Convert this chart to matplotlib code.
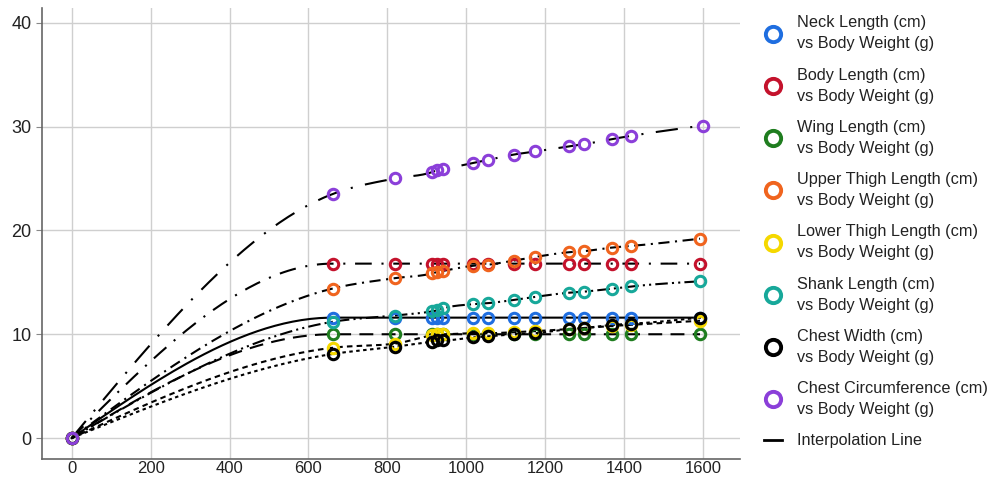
import numpy as np
import matplotlib
matplotlib.use('Agg')
import matplotlib.pyplot as plt
from matplotlib.lines import Line2D

weight = [0, 661, 819, 912, 926, 941, 1018, 1056, 1120, 1175, 1260, 1298, 1370, 1417, 1592]
weight_circ = [0, 661, 819, 912, 926, 941, 1018, 1056, 1120, 1175, 1260, 1298, 1370, 1417, 1600]

neck = [0, 11.6, 11.6, 11.6, 11.6, 11.6, 11.6, 11.6, 11.6, 11.6, 11.6, 11.6, 11.6, 11.6, 11.6]
body = [0, 16.8, 16.8, 16.8, 16.8, 16.8, 16.8, 16.8, 16.8, 16.8, 16.8, 16.8, 16.8, 16.8, 16.8]
wing = [0, 10.0, 10.0, 10.0, 10.0, 10.0, 10.0, 10.0, 10.0, 10.0, 10.0, 10.0, 10.0, 10.0, 10.0]
upper_thigh = [0, 14.4, 15.4, 15.85, 16.0, 16.1, 16.6, 16.7, 17.1, 17.45, 17.9, 18.0, 18.35, 18.5, 19.2]
lower_thigh = [0, 8.7, 9.1, 9.9, 10.0, 10.0, 10.1, 10.1, 10.2, 10.3, 10.5, 10.6, 10.8, 10.9, 11.3]
shank = [0, 11.2, 11.8, 12.2, 12.3, 12.5, 12.9, 13.0, 13.3, 13.6, 14.0, 14.1, 14.4, 14.6, 15.1]
chest_width = [0, 8.1, 8.8, 9.3, 9.4, 9.4, 9.7, 9.8, 10.0, 10.1, 10.5, 10.6, 10.9, 11.0, 11.6]
chest_circ = [0, 23.5, 25.0, 25.6, 25.8, 25.9, 26.5, 26.8, 27.3, 27.6, 28.1, 28.3, 28.8, 29.1, 30.1]

labels = ['Neck Length (cm)', 'Body Length (cm)', 'Wing Length (cm)', 'Upper Thigh Length (cm)',
          'Lower Thigh Length (cm)', 'Shank Length (cm)', 'Chest Width (cm)', 'Chest Circumference (cm)']
colors = ['#1f6ee0', '#c4122c', '#1f7d1f', '#f0641e', '#f5d800', '#17a89a', '#000000', '#8b3fd9']
# dash patterns in points (None = solid)
dashes = [None, (12, 7, 1.5, 7), (10, 6), (8, 4, 1.5, 4), (4, 3),
          (9, 3, 1.5, 3, 1.5, 3), (2.5, 2.5), (16, 9, 1.5, 9)]

x_ticks = [0, 200, 400, 600, 800, 1000, 1200, 1400, 1600]
y_ticks = [0, 10, 20, 30, 40]


def monotone_curve(x, y, n=60):
    # monotone cubic (same as d3 curveMonotoneX)
    x = np.asarray(x, float)
    y = np.asarray(y, float)
    h = np.diff(x)
    s = np.diff(y) / h
    m = np.zeros(len(x))
    for i in range(1, len(x) - 1):
        p = (s[i - 1] * h[i] + s[i] * h[i - 1]) / (h[i - 1] + h[i])
        sg = (1 if s[i - 1] >= 0 else -1) + (1 if s[i] >= 0 else -1)
        m[i] = sg * min(abs(s[i - 1]), abs(s[i]), 0.5 * abs(p))
    m[0] = (3 * s[0] - m[1]) / 2
    m[-1] = (3 * s[-1] - m[-2]) / 2
    xs, ys = [], []
    for i in range(len(x) - 1):
        t = np.linspace(0, 1, n)
        h00 = 2 * t**3 - 3 * t**2 + 1
        h10 = t**3 - 2 * t**2 + t
        h01 = -2 * t**3 + 3 * t**2
        h11 = t**3 - t**2
        xs.append(x[i] + t * h[i])
        ys.append(h00 * y[i] + h10 * h[i] * m[i] + h01 * y[i + 1] + h11 * h[i] * m[i + 1])
    return np.concatenate(xs), np.concatenate(ys)


plt.rcParams['font.family'] = ['Liberation Sans', 'DejaVu Sans']
plt.rcParams['lines.scale_dashes'] = False

fig = plt.figure(figsize=(9.89, 4.79), dpi=100)
ax = fig.add_axes([0.0425, 0.042, 0.706, 0.941])

series = [neck, body, wing, upper_thigh, lower_thigh, shank, chest_width, chest_circ]
xs_all = [weight] * 7 + [weight_circ]

for xv, yv, d in zip(xs_all, series, dashes):
    cx, cy = monotone_curve(xv, yv)
    line, = ax.plot(cx, cy, color='black', lw=1.5, zorder=2)
    if d is not None:
        line.set_dashes(d)

for xv, yv, c in zip(xs_all, series, colors):
    ax.plot(xv, yv, 'o', ms=7.5, mfc='none', mec=c, mew=2.2, zorder=3)

ax.set_xlim(-75, 1694)
ax.set_ylim(-2.0, 41.4)
ax.set_xticks(x_ticks)
ax.set_yticks(y_ticks)
ax.tick_params(axis='x', labelsize=12, length=0, pad=1.5, labelcolor='#222222')
ax.tick_params(axis='y', labelsize=13, length=4, color='#888888', labelcolor='#222222')
ax.grid(True, color='#cfcfcf', lw=1)
ax.set_axisbelow(True)
for sp in ['top', 'right']:
    ax.spines[sp].set_visible(False)
for sp in ['left', 'bottom']:
    ax.spines[sp].set_color('#666666')
    ax.spines[sp].set_linewidth(1.2)

handles = []
for lab, c in zip(labels, colors):
    handles.append(Line2D([], [], ls='none', marker='o', ms=11, mfc='none', mec=c, mew=2.8,
                          label=lab + '\nvs Body Weight (g)'))
handles.append(Line2D([], [], color='black', lw=2, label='Interpolation Line'))

leg = fig.legend(handles=handles, loc='upper left', bbox_to_anchor=(0.7725, 0.968),
                 frameon=False, fontsize=11.7, handlelength=1.1, handletextpad=0.9,
                 labelspacing=1.0, borderpad=0, borderaxespad=0)
for t in leg.get_texts():
    t.set_linespacing(1.5)
    t.set_color('#222222')

fig.savefig('out.png', dpi=100, facecolor='white')
